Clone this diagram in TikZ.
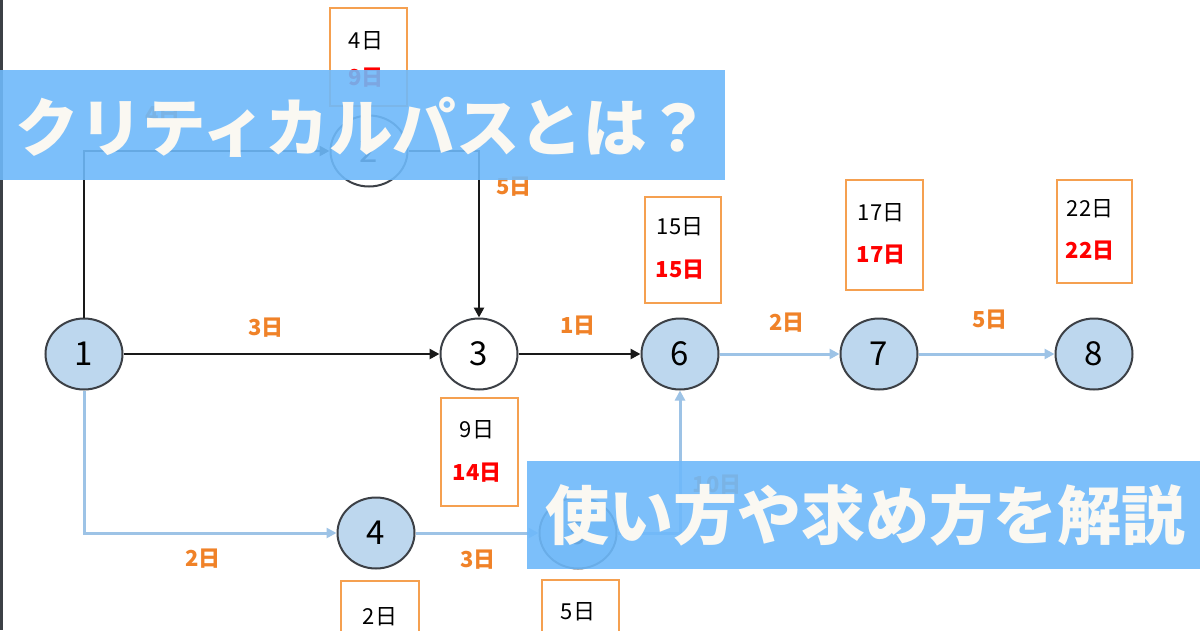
\documentclass[tikz,border=0pt]{standalone}
\usepackage{fontspec}
\newfontfamily\jp{Noto Sans CJK JP}
\usetikzlibrary{shapes.geometric,arrows.meta}
\definecolor{nodeblue}{RGB}{189,215,238}
\definecolor{edgeblue}{RGB}{157,195,230}
\definecolor{lblorange}{RGB}{240,130,40}
\definecolor{boxorange}{RGB}{245,160,80}
\definecolor{bannerblue}{RGB}{110,185,250}
\definecolor{bannertext}{RGB}{250,248,242}
\definecolor{edgeline}{RGB}{60,64,70}
\definecolor{latered}{RGB}{255,0,0}
\tikzset{
 ev/.style={ellipse, draw=edgeline, line width=2pt, minimum width=77pt, minimum height=71pt, inner sep=0pt, font=\jp\fontsize{33}{33}\selectfont},
 evb/.style={ev, fill=nodeblue},
 evw/.style={ev, fill=white},
 dur/.style={text=lblorange, font=\jp\bfseries\fontsize{22}{22}\selectfont, inner sep=0pt},
 infobox/.style={draw=boxorange, line width=2pt, fill=white, inner sep=0pt},
 early/.style={font=\jp\fontsize{22}{22}\selectfont, text=black, inner sep=0pt},
 late/.style={font=\jp\bfseries\fontsize{22}{22}\selectfont, text=latered, inner sep=0pt},
 blk/.style={draw=black!90, line width=2.8pt, -{Triangle[length=10pt,width=10pt]}},
 blu/.style={draw=edgeblue, line width=3pt, -{Triangle[length=10pt,width=10pt]}},
 bannerbox/.style={fill=bannerblue, fill opacity=0.9, draw=none},
 bannertxt/.style={text=bannertext, inner sep=0pt, font=\jp\bfseries\fontsize{63.5}{63.5}\selectfont}
}
\begin{document}
\begin{tikzpicture}[x=1pt,y=-1pt]
\useasboundingbox (0,0) rectangle (1200,630);
\fill[white] (0,0) rectangle (1200,630);
\draw[edgeline, line width=3pt] (1.5,0) -- (1.5,630);

% info boxes
\node[infobox, minimum width=77pt, minimum height=98pt] (b2) at (368.5,57) {};
\node[infobox, minimum width=77pt, minimum height=108pt] (b3) at (479.5,452) {};
\node[infobox, minimum width=78pt, minimum height=108pt] (b4) at (380,635) {};
\node[infobox, minimum width=77pt, minimum height=108pt] (b5) at (580.5,634) {};
\node[infobox, minimum width=76pt, minimum height=106pt] (b6) at (683,250) {};
\node[infobox, minimum width=77pt, minimum height=110pt] (b7) at (884.5,235) {};
\node[infobox, minimum width=75pt, minimum height=103pt] (b8) at (1094.5,231.5) {};

\node[early] (e2) at (366,41) {4日};
\node[late] (t2) at (366,78) {9日};
\node[early] (e3) at (477,430) {9日};
\node[late] (t3) at (477,473) {14日};
\node[early] (e4) at (380,617) {2日};
\node[early] (e5) at (578,612) {5日};
\node[early] (e6) at (680,227) {15日};
\node[late] (t6) at (680,270) {15日};
\node[early] (e7) at (881,213) {17日};
\node[late] (t7) at (881,255) {17日};
\node[early] (e8) at (1090,209) {22日};
\node[late] (t8) at (1090,251) {22日};

% events
\node[evb] (n1) at (84,354) {1};
\node[evw] (n2) at (369,151) {2};
\node[evw] (n3) at (479,354) {3};
\node[evb] (n4) at (376,533) {4};
\node[evb] (n5) at (578,533) {5};
\node[evb] (n6) at (680,354) {6};
\node[evb] (n7) at (879,354) {7};
\node[evb] (n8) at (1094,354) {8};

% activities
\draw[blk] (n1.north) |- (n2.west);
\draw[blk] (n2.east) -| (n3.north);
\draw[blk] (n1) -- (n3);
\draw[blk] (n3) -- (n6);
\draw[blu] (n1.south) |- (n4.west);
\draw[blu] (n4) -- (n5);
\draw[blu] (n5.east) -| (n6.south);
\draw[blu] (n6) -- (n7);
\draw[blu] (n7) -- (n8);

\node[dur] (l12) at (163,115) {4日};
\node[dur] (l23) at (514,187) {5日};
\node[dur] (l13) at (266,328) {3日};
\node[dur] (l36) at (578,326) {1日};
\node[dur] (l14) at (203,559) {2日};
\node[dur] (l45) at (478,560) {3日};
\node[dur] (l56) at (717,485) {10日};
\node[dur] (l67) at (787,323) {2日};
\node[dur] (l78) at (990,320) {5日};

% banners
\fill[bannerbox] (0,70) rectangle (725,180);
\fill[bannerbox] (527,461) rectangle (1200,569);
\node[bannertxt] (title) at (363,127) {クリティカルパスとは？};
\node[bannertxt, font=\jp\bfseries\fontsize{64}{64}\selectfont] (subtitle) at (865,515) {使い方や求め方を解説};
\end{tikzpicture}
\end{document}
